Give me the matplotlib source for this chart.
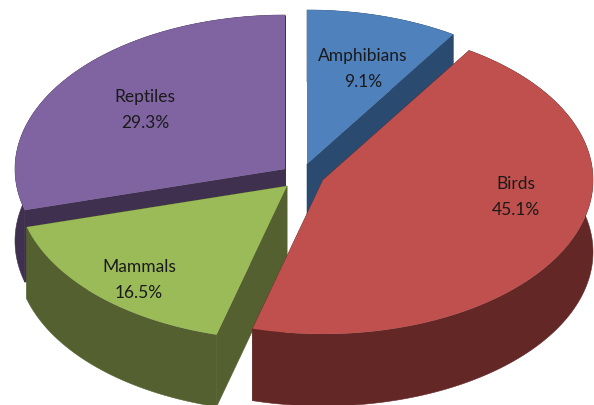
import numpy as np
import matplotlib
matplotlib.use('Agg')
import matplotlib.pyplot as plt

plt.rcParams['font.family'] = ['Lato', 'DejaVu Sans']

labels = ['Amphibians', 'Birds', 'Mammals', 'Reptiles']
shares = [9.1, 45.1, 16.5, 29.3]

top_colors = ['#4f81bd', '#c0504d', '#9bbb59', '#8064a2']
side_colors = ['#2b4a6f', '#632726', '#546030', '#40304f']

# apex of each exploded slice, in pixels
apex_x = [307, 323, 287, 285]
apex_y = [165, 181, 187, 170]
label_xy = [(363, 69), (516, 197), (139, 280), (145, 110)]

RX, RY = 270, 154
DEPTH = 72

fig = plt.figure(figsize=(5.94, 4.06), dpi=100)
ax = fig.add_axes([0, 0, 1, 1])
ax.set_xlim(0, 594)
ax.set_ylim(406, 0)
ax.axis('off')

# angles run clockwise from twelve o'clock
edges = np.concatenate([[0], np.cumsum(shares)]) / sum(shares) * 2 * np.pi


def rim(i, n=120):
    t = np.linspace(edges[i], edges[i + 1], n)
    return apex_x[i] + RX * np.sin(t), apex_y[i] - RY * np.cos(t)


def draw_slice(i):
    x, y = rim(i)
    side = side_colors[i]
    # cut faces first, then the outer wall, then the top
    for ex, ey in [(x[0], y[0]), (x[-1], y[-1])]:
        ax.fill([apex_x[i], ex, ex, apex_x[i]],
                [apex_y[i], ey, ey + DEPTH, apex_y[i] + DEPTH],
                fc=side, ec=side, lw=0.4)
    ax.fill(np.r_[x, x[::-1]], np.r_[y, y[::-1] + DEPTH], fc=side, ec=side, lw=0.4)
    ax.fill(np.r_[apex_x[i], x], np.r_[apex_y[i], y], fc=top_colors[i], lw=0)


for i in [3, 0, 2, 1]:
    draw_slice(i)

for i in range(4):
    ax.text(label_xy[i][0], label_xy[i][1], f'{labels[i]}\n{shares[i]}%',
            ha='center', va='center', fontsize=12.5, color='#1a1a1a', linespacing=1.8)

fig.savefig('out.png', dpi=100)
